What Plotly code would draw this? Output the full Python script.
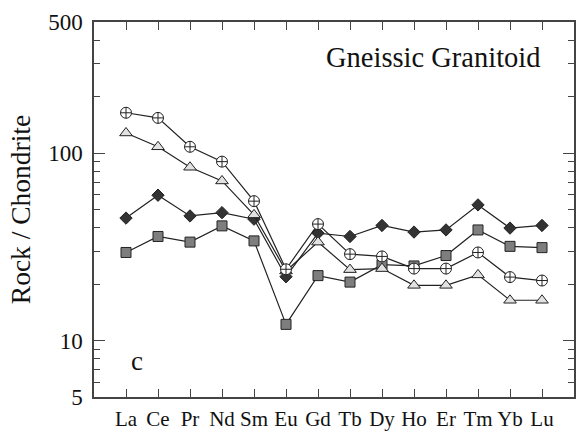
import plotly.graph_objects as go

elements = ["La", "Ce", "Pr", "Nd", "Sm", "Eu", "Gd", "Tb", "Dy", "Ho", "Er", "Tm", "Yb", "Lu"]
sample_circle = [164, 154, 108, 90, 55.4, 24.0, 41.8, 28.9, 28.1, 24.2, 24.2, 29.5, 21.8, 20.9]
sample_triangle = [128, 108, 84, 71, 46.8, 23.5, 33.5, 23.9, 24.2, 19.7, 19.7, 22.4, 16.4, 16.4]
sample_diamond = [45, 59.6, 46.2, 48.1, 44.4, 21.9, 37.4, 35.9, 41.1, 37.9, 38.9, 52.9, 39.8, 41.1]
sample_square = [29.5, 35.9, 33.5, 40.9, 34.0, 12.2, 22.2, 20.5, 25.4, 25.0, 28.4, 38.9, 31.8, 31.3]

y_major = [5, 10, 100, 500]
y_minor = [6, 7, 8, 9, 20, 30, 40, 50, 60, 70, 80, 90, 200, 300, 400]

FONT = "Liberation Serif"
TXT = "#111111"
LINE = "#222222"
xs = list(range(len(elements)))

series = [
    (sample_square, "square", "#7e7e7e", 10),
    (sample_diamond, "diamond", "#333333", 9.5),
    (sample_triangle, "triangle-up", "#e2e2e2", 11),
    (sample_circle, "circle-cross", "#ffffff", 11),
]

fig = go.Figure()
for vals, sym, fill, size in series:
    fig.add_trace(go.Scatter(
        x=xs, y=vals, mode="lines+markers",
        line=dict(color=LINE, width=1.2),
        marker=dict(symbol=sym, size=size, color=fill,
                    line=dict(color="#222222", width=1)),
        showlegend=False, hoverinfo="skip",
    ))

fig.update_layout(
    width=578, height=441,
    margin=dict(l=94, r=2, t=22, b=44),
    paper_bgcolor="white", plot_bgcolor="white",
    showlegend=False,
    annotations=[
        dict(text="Gneissic Granitoid", x=0.7075, y=0.904, xref="paper", yref="paper",
             showarrow=False, font=dict(family=FONT, size=28.5, color=TXT),
             xanchor="center", yanchor="middle"),
        dict(text="c", x=0.089, y=0.095, xref="paper", yref="paper",
             showarrow=False, font=dict(family=FONT, size=27, color=TXT),
             xanchor="center", yanchor="middle"),
    ],
)

fig.update_xaxes(
    range=[-1, 14], tickmode="array", tickvals=xs, ticktext=elements,
    ticks="inside", ticklen=8, tickwidth=1, tickcolor="#444444",
    showline=True, linecolor="#444444", linewidth=1.5, mirror="ticks",
    showgrid=False, zeroline=False,
    tickfont=dict(family=FONT, size=21, color=TXT),
    ticklabelstandoff=2,
)
fig.update_yaxes(
    type="log", range=[0.69897, 2.69897],
    tickmode="array", tickvals=y_major, ticktext=[str(v) for v in y_major],
    ticks="inside", ticklen=11, tickwidth=1.2, tickcolor="#444444",
    minor=dict(tickmode="array", tickvals=y_minor, ticks="inside", ticklen=6,
               tickwidth=1, tickcolor="#444444", showgrid=False),
    showline=True, linecolor="#444444", linewidth=1.5, mirror="ticks",
    showgrid=False, zeroline=False,
    tickfont=dict(family=FONT, size=23, color=TXT),
    ticklabelstandoff=5,
    title=dict(text="Rock / Chondrite", font=dict(family=FONT, size=27.5, color=TXT),
               standoff=10),
)

fig.write_html("out.html")
